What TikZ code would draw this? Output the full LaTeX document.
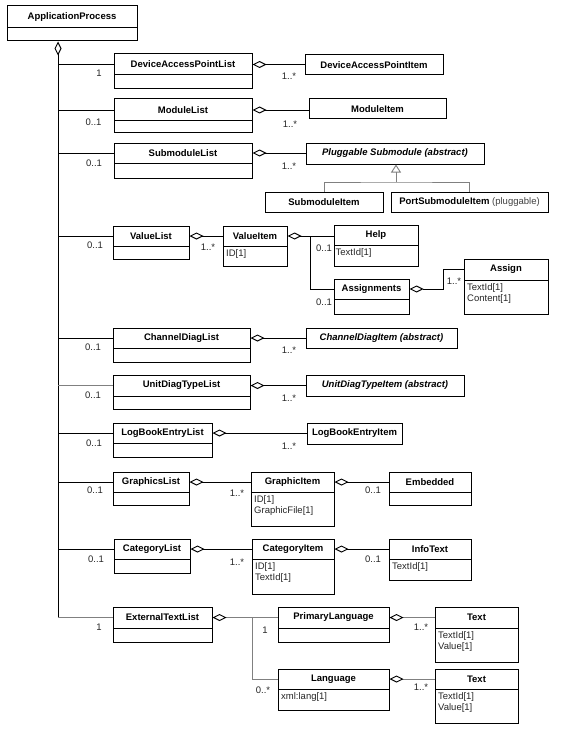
\documentclass[tikz,border=0pt]{standalone}
\usepackage{fontspec}
\setmainfont{Liberation Sans}
\usetikzlibrary{arrows.meta}
\tikzset{
 hdr/.style={draw, line width=1pt, inner sep=0pt, font=\fontsize{9.5}{11}\selectfont\bfseries},
 bdy/.style={draw, line width=1pt, inner sep=0pt},
 bdytxt/.style={inner sep=1.5pt, align=left, anchor=north west, font=\fontsize{9.5}{11}\selectfont, text=black!85},
 mult/.style={inner sep=0pt, font=\fontsize{9.5}{11}\selectfont, text=black!85},
 conn/.style={draw, line width=0.9pt},
 conng/.style={draw, line width=0.9pt, black!50},
 agg/.style={{Diamond[open,length=14pt,width=7pt,line width=0.9pt,color=black]}-},
 inh/.style={{Triangle[open,length=8pt,width=10pt,line width=0.9pt]}-},
}
\newcommand{\umlhead}[6]{\node[hdr, minimum width={#4-#2}, minimum height={#5-#3}] (#1) at ({(#2+#4)/2},{(#3+#5)/2}) {#6};}
\newcommand{\umlbody}[5]{\node[bdy, minimum width={#4-#2}, minimum height={#5-#3}] (#1) at ({(#2+#4)/2},{(#3+#5)/2}) {};}
\begin{document}
\begin{tikzpicture}[x=1pt,y=-1pt]
\useasboundingbox[fill=white] (0,0) rectangle (560,733);
% classes
\umlhead{ap}{7}{6}{137}{28}{ApplicationProcess}
\umlbody{ap-b}{7}{28}{137}{41}
\umlhead{dapl}{114}{54}{252}{75}{DeviceAccessPointList}
\umlbody{dapl-b}{114}{75}{252}{89}
\umlhead{dapi}{305}{55}{443}{75}{DeviceAccessPointItem}
\umlhead{ml}{114}{99}{252}{121}{ModuleList}
\umlbody{ml-b}{114}{121}{252}{133}
\umlhead{mi}{309}{99}{446}{119}{ModuleItem}
\umlhead{sml}{114}{143}{252}{163}{SubmoduleList}
\umlbody{sml-b}{114}{163}{252}{178}
\umlhead{plug}{306}{143}{484}{164}{\itshape Pluggable Submodule (abstract)}
\umlhead{smi}{265}{192}{383}{212}{SubmoduleItem}
\umlhead{psmi}{391}{192}{548}{212}{PortSubmoduleItem {\mdseries\color{black!75}(pluggable)}}
\umlhead{vl}{113}{226}{189}{246}{ValueList}
\umlbody{vl-b}{113}{246}{189}{259}
\umlhead{vi}{223}{226}{287}{246}{ValueItem}
\umlbody{vi-b}{223}{246}{287}{266}
\node[bdytxt] (vi-t) at (224.5,248) {ID[1]};
\umlhead{help}{334}{225}{418}{245}{Help}
\umlbody{help-b}{334}{245}{418}{266}
\node[bdytxt] (help-t) at (334,247) {TextId[1]};
\umlhead{asg}{334}{279}{409}{299}{Assignments}
\umlbody{asg-b}{334}{299}{409}{314}
\umlhead{assign}{464}{259}{548}{280}{Assign}
\umlbody{assign-b}{464}{280}{548}{314}
\node[bdytxt] (assign-t) at (465.5,282) {TextId[1]\\Content[1]};
\umlhead{cdl}{113}{328}{250}{348}{ChannelDiagList}
\umlbody{cdl-b}{113}{348}{250}{362}
\umlhead{cdi}{306}{328}{457}{348}{\itshape ChannelDiagItem (abstract)}
\umlhead{udl}{113}{375}{250}{396}{UnitDiagTypeList}
\umlbody{udl-b}{113}{396}{250}{409}
\umlhead{udi}{306}{375}{464}{396}{\itshape UnitDiagTypeItem (abstract)}
\umlhead{lbl}{113}{423}{212}{443}{LogBookEntryList}
\umlbody{lbl-b}{113}{443}{212}{457}
\umlhead{lbi}{307}{423}{402}{444}{LogBookEntryItem}
\umlhead{gl}{113}{472}{189}{492}{GraphicsList}
\umlbody{gl-b}{113}{492}{189}{505}
\umlhead{gi}{251}{472}{334}{492}{GraphicItem}
\umlbody{gi-b}{251}{492}{334}{526}
\node[bdytxt] (gi-t) at (252.5,494) {ID[1]\\GraphicFile[1]};
\umlhead{emb}{389}{472}{471}{492}{Embedded}
\umlbody{emb-b}{389}{492}{471}{505}
\umlhead{cl}{114}{539}{190}{559}{CategoryList}
\umlbody{cl-b}{114}{559}{190}{573}
\umlhead{ci}{252}{539}{334}{559}{CategoryItem}
\umlbody{ci-b}{252}{559}{334}{594}
\node[bdytxt] (ci-t) at (253.5,561) {ID[1]\\TextId[1]};
\umlhead{info}{389}{539}{471}{559}{InfoText}
\umlbody{info-b}{389}{559}{471}{580}
\node[bdytxt] (info-t) at (390.5,561) {TextId[1]};
\umlhead{etl}{113}{607}{212}{628}{ExternalTextList}
\umlbody{etl-b}{113}{628}{212}{642}
\umlhead{pl}{278}{607}{389}{628}{PrimaryLanguage}
\umlbody{pl-b}{278}{628}{389}{642}
\umlhead{lang}{278}{669}{389}{689}{Language}
\umlbody{lang-b}{278}{689}{389}{710}
\node[bdytxt] (lang-t) at (279.5,691) {xml:lang[1]};
\umlhead{ta}{435}{607}{518}{628}{Text}
\umlbody{ta-b}{435}{628}{518}{662}
\node[bdytxt] (ta-t) at (436.5,630) {TextId[1]\\Value[1]};
\umlhead{tb}{435}{669}{518}{689}{Text}
\umlbody{tb-b}{435}{689}{518}{723}
\node[bdytxt] (tb-t) at (436.5,691) {TextId[1]\\Value[1]};
% trunk
\coordinate (trunk) at (58,617.5);
\draw[conn,agg] (ap-b.south -| trunk) -- (trunk);
\draw[conn] (dapl.west -| trunk) -- (dapl.west);
\draw[conn] (ml.west -| trunk) -- (ml.west);
\draw[conn] (sml.west -| trunk) -- (sml.west);
\draw[conn] (vl.west -| trunk) -- (vl.west);
\draw[conn] (cdl.west -| trunk) -- (cdl.west);
\draw[conng] (udl.west -| trunk) -- (udl.west);
\draw[conn] (lbl.west -| trunk) -- (lbl.west);
\draw[conn] (gl.west -| trunk) -- (gl.west);
\draw[conn] (cl.west -| trunk) -- (cl.west);
\draw[conng] (trunk) -- (etl.west);
% list -> item
\draw[conn,agg] (dapl.east) -- (dapl.east -| dapi.west);
\draw[conn,agg] (ml.east) -- (ml.east -| mi.west);
\draw[conn,agg] (sml.east) -- (sml.east -| plug.west);
\draw[conn,agg] (vl.east) -- (vl.east -| vi.west);
\draw[conn,agg] (cdl.east) -- (cdl.east -| cdi.west);
\draw[conn,agg] (udl.east) -- (udl.east -| udi.west);
\draw[conn,agg] (lbl.east) -- (lbl.east -| lbi.west);
\draw[conn,agg] (gl.east) -- (gi.west);
\draw[conn,agg] (gi.east) -- (emb.west);
\draw[conn,agg] (cl.east) -- (ci.west);
\draw[conn,agg] (ci.east) -- (info.west);
% inheritance
\coordinate (inhj) at (396,182);
\draw[conng,inh] (plug.south -| inhj) -- (inhj);
\draw[conng] (smi.north) |- (inhj) -| (psmi.north);
% value item
\coordinate (vbr) at (310,236);
\draw[conn,agg] (vi.east) -- (vi.east -| help.west);
\draw[conn] (vi.east -| vbr) |- (asg.west);
\coordinate (abr) at (443,289);
\draw[conn,agg] (asg.east) -- (asg.east -| abr) |- (assign.west);
% external text
\coordinate (ebr) at (252,617.5);
\draw[conng,agg] (etl.east) -- (pl.west);
\draw[conng] (etl.east -| ebr) |- (lang.west);
\draw[conng,agg] (pl.east) -- (ta.west);
\draw[conng,agg] (lang.east) -- (tb.west);
% multiplicities
\node[mult] (m1) at (99,73) {1};
\node[mult] (m2) at (289,76) {1..*};
\node[mult] (m3) at (93.5,122) {0..1};
\node[mult] (m4) at (290,124) {1..*};
\node[mult] (m5) at (94,163) {0..1};
\node[mult] (m6) at (289,166) {1..*};
\node[mult] (m7) at (95,245) {0..1};
\node[mult] (m8) at (208,247) {1..*};
\node[mult] (m9) at (324,248) {0..1};
\node[mult] (m10) at (324,302) {0..1};
\node[mult] (m11) at (454,281) {1..*};
\node[mult] (m12) at (93,347) {0..1};
\node[mult] (m13) at (289,350) {1..*};
\node[mult] (m14) at (93,395) {0..1};
\node[mult] (m15) at (289,398) {1..*};
\node[mult] (m16) at (94,443) {0..1};
\node[mult] (m17) at (289,446) {1..*};
\node[mult] (m18) at (95,490) {0..1};
\node[mult] (m19) at (237,493) {1..*};
\node[mult] (m20) at (373,490) {0..1};
\node[mult] (m21) at (96,559) {0..1};
\node[mult] (m22) at (237,562) {1..*};
\node[mult] (m23) at (373,559) {0..1};
\node[mult] (m24) at (99,627) {1};
\node[mult] (m25) at (265,630) {1};
\node[mult] (m26) at (263,690) {0..*};
\node[mult] (m27) at (421,627) {1..*};
\node[mult] (m28) at (421,687) {1..*};
\end{tikzpicture}
\end{document}
